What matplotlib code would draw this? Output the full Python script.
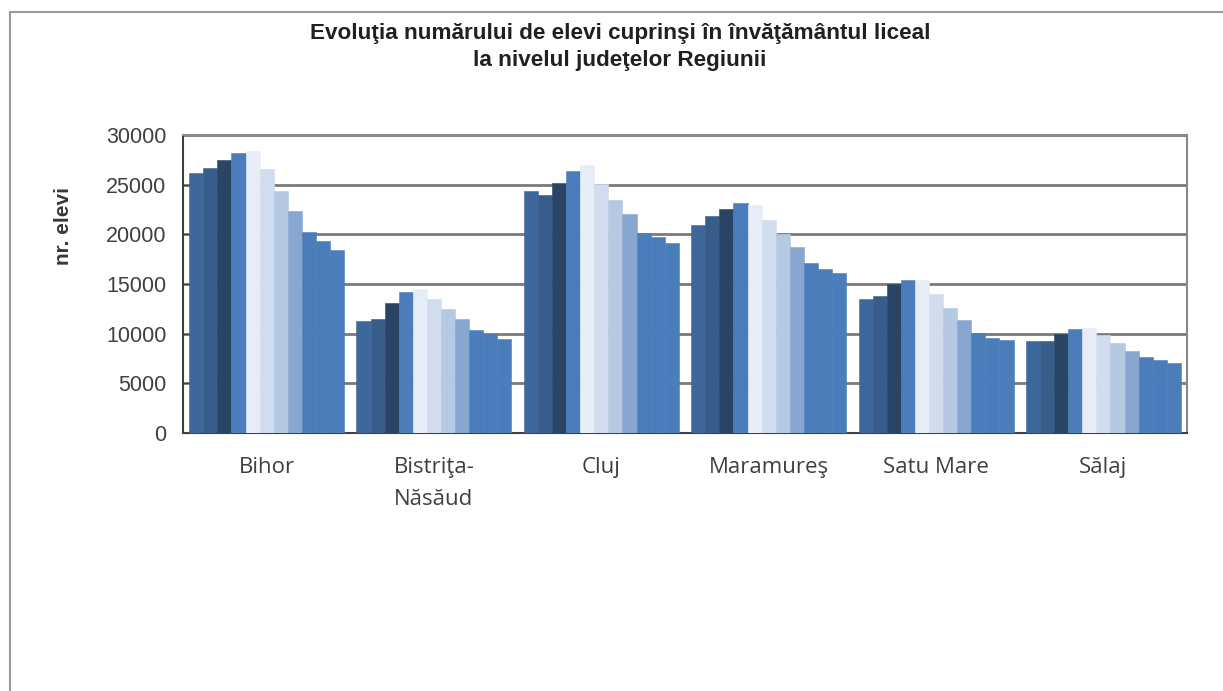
import numpy as np
import matplotlib.pyplot as plt
from matplotlib.lines import Line2D

judete = ['Bihor', 'Bistriţa-\nNăsăud', 'Cluj', 'Maramureş', 'Satu Mare', 'Sălaj']

# 11 series (school years), values read per county
bihor = [26200, 26650, 27500, 28200, 28400, 26550, 24350, 22350, 20200, 19300, 18400]
bistrita = [11260, 11500, 13100, 14200, 14450, 13450, 12470, 11460, 10400, 10000, 9500]
cluj = [24400, 24000, 25200, 26400, 27000, 25100, 23450, 22050, 20100, 19750, 19150]
maramures = [20900, 21800, 22600, 23200, 23000, 21400, 20000, 18700, 17150, 16500, 16070]
satu_mare = [13450, 13800, 15000, 15400, 15450, 14000, 12600, 11400, 10100, 9600, 9400]
salaj = [9270, 9270, 10000, 10450, 10600, 9850, 9070, 8230, 7660, 7330, 7060]

bar_colors = ['#3e679c', '#385d8b', '#2a4466', '#4a7dba', '#e7edf7', '#d1ddee',
              '#b5c9e3', '#88a7d0', '#4a7dba', '#4a7dba', '#4a7dba']

data = np.array([bihor, bistrita, cluj, maramures, satu_mare, salaj])
n_series = data.shape[1]

fig = plt.figure(figsize=(12.23, 6.91), dpi=100)
ax = fig.add_axes([0.1496, 0.3734, 0.821, 0.4312])

group_w = 0.926
w = group_w / n_series
x = np.arange(len(judete))
for i in range(n_series):
    ax.bar(x - group_w / 2 + w * (i + 0.5), data[:, i], width=w,
           color=bar_colors[i], edgecolor=bar_colors[i], linewidth=0.4, zorder=3)

ax.set_xlim(-0.5, len(judete) - 0.5)
ax.set_ylim(0, 30000)
ax.set_yticks(np.arange(0, 30001, 5000))
ax.yaxis.grid(True, color='#7a7a7a', linewidth=2.0, zorder=0)
ax.set_axisbelow(True)

ax.set_xticks(x)
ax.set_xticklabels(judete, fontsize=16, color='#404040', family='Open Sans',
                   linespacing=1.7)
ax.tick_params(axis='x', length=0, pad=17)
ax.tick_params(axis='y', direction='in', length=5, color='#404040',
               labelsize=15.5, labelcolor='#404040', pad=12)
for lab in ax.get_yticklabels():
    lab.set_family('Liberation Sans')

for s in ['top', 'right']:
    ax.spines[s].set_color('#8a8a8a')
    ax.spines[s].set_linewidth(1.5)
for s in ['left', 'bottom']:
    ax.spines[s].set_color('#404040')
    ax.spines[s].set_linewidth(1.5)

ax.set_ylabel('nr. elevi', fontsize=15, family='Liberation Sans', weight='bold',
              color='#383838')
ax.yaxis.set_label_coords(-0.1095, 0.695)

fig.text(0.507, 0.966, 'Evoluţia numărului de elevi cuprinşi în învăţământul liceal\n'
         'la nivelul judeţelor Regiunii', ha='center', va='top', fontsize=16.2,
         family='Liberation Sans', weight='bold', color='#202020', linespacing=1.35)

# outer chart frame (top and left edges)
fig.add_artist(Line2D([0.008, 1.0], [0.983, 0.983], color='#9a9a9a', linewidth=1.5))
fig.add_artist(Line2D([0.008, 0.008], [0.0, 0.983], color='#9a9a9a', linewidth=1.5))

fig.savefig('out.png', dpi=100, facecolor='white')
